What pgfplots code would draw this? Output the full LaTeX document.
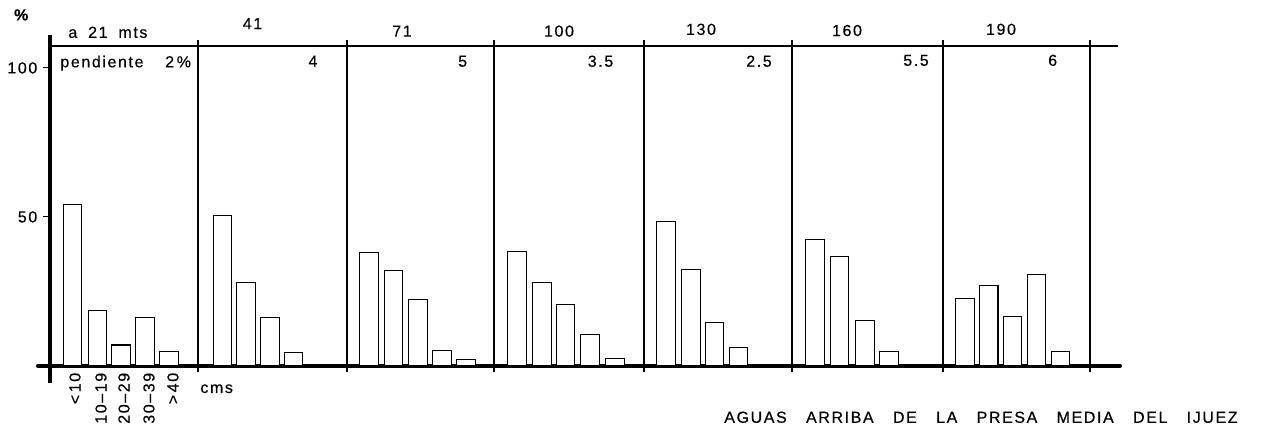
\documentclass[border=0pt]{standalone}
\usepackage{fontspec}
\setmainfont{Liberation Sans}[LetterSpace=10,WordSpace=1.8,FakeBold=0.4]
\newfontfamily\titlefont{Liberation Sans}[LetterSpace=10,WordSpace=3.2,FakeBold=0.4]
\usepackage{pgfplots}
\pgfplotsset{compat=1.18}
\begin{document}
\fontsize{8}{9}\selectfont
\begin{tikzpicture}
\begin{axis}[
  scale only axis, width=535pt, height=160pt,
  xmin=50, xmax=1120, ymin=0, ymax=107.4,
  axis lines*=left,
  x axis line style={draw=none}, y axis line style={draw=none},
  xtick=\empty, ytick={50,100},
  tick align=outside, major tick length=3.5pt,
  ytick style={line width=0.5pt, black},
  yticklabel style={font=\fontsize{8}{9}\selectfont, /pgf/number format/assume math mode=true},
  clip=false,
]
% frame: y axis, base line, top line, panel dividers
\draw[line width=1.7pt] (axis cs:50,-5.6) -- (axis cs:50,111);
\draw[line width=2pt, line cap=round] (axis cs:38,0) -- (axis cs:1120,0);
\draw[line width=0.8pt] (axis cs:50,107.4) -- (axis cs:1118,107.4);
\pgfplotsinvokeforeach{198,347,494,644,792,943,1090}{
  \draw[line width=0.6pt] (axis cs:#1,-2) -- (axis cs:#1,109.4);
}

\addplot[ybar, bar width=18.5, fill=white, draw=black, line width=0.55pt] coordinates {
  (72.5,54.3) (97.5,18.6) (121,7.0) (145,16.3) (169,4.8)
  (222.5,50.4) (246,28.0) (270,16.2) (293.5,4.6)
  (369,38.2) (393.5,32.0) (418,22.3) (442,5.1) (466,2.2)
  (517,38.4) (542,28.0) (565.5,20.7) (590,10.6) (615,2.4)
  (666,48.4) (691,32.3) (714.5,14.5) (738.5,6.1)
  (815,42.4) (839.5,36.6) (865,15.1) (889,4.8)
  (965,22.6) (988.7,27.0) (1012.3,16.6) (1036.3,30.8) (1060.3,4.9)
};

% distance labels
\node[anchor=base west, inner sep=0pt] at (axis cs:68,110.1) {a 21 mts};
\node[anchor=base, inner sep=0pt] at (axis cs:252.5,113.0) {41};
\node[anchor=base, inner sep=0pt] at (axis cs:402,110.5) {71};
\node[anchor=base, inner sep=0pt] at (axis cs:559,110.5) {100};
\node[anchor=base, inner sep=0pt] at (axis cs:701,111.1) {130};
\node[anchor=base, inner sep=0pt] at (axis cs:847,110.7) {160};
\node[anchor=base, inner sep=0pt] at (axis cs:1001,111.1) {190};
% slope labels
\node[anchor=base west, inner sep=0pt] at (axis cs:60,100.2) {pendiente \ 2\,\%};
\node[anchor=base, inner sep=0pt] at (axis cs:313,100.4) {4};
\node[anchor=base, inner sep=0pt] at (axis cs:462.7,100.4) {5};
\node[anchor=base, inner sep=0pt] at (axis cs:600.5,100.4) {3.5};
\node[anchor=base, inner sep=0pt] at (axis cs:759,100.4) {2.5};
\node[anchor=base, inner sep=0pt] at (axis cs:916,100.7) {5.5};
\node[anchor=base, inner sep=0pt] at (axis cs:1052.7,100.7) {6};
% size classes
\node[rotate=90, anchor=east, inner sep=0pt] at (axis cs:75,-2.2) {<\,10};
\node[rotate=90, anchor=east, inner sep=0pt] at (axis cs:101,-2.2) {10--19};
\node[rotate=90, anchor=east, inner sep=0pt] at (axis cs:124,-2.2) {20--29};
\node[rotate=90, anchor=east, inner sep=0pt] at (axis cs:149,-2.2) {30--39};
\node[rotate=90, anchor=east, inner sep=0pt] at (axis cs:173,-2.2) {>\,40};
\node[anchor=base west, inner sep=0pt] at (axis cs:200,-9.1) {cms};
\node[inner sep=0pt] at (axis cs:22,117.8) {\textbf{\%}};
\node[anchor=base east, inner sep=0pt, font=\titlefont] at (axis cs:1238,-19.1)
  {AGUAS ARRIBA DE LA PRESA MEDIA DEL IJUEZ};

\coordinate (bl) at (axis cs:0,-21.8);
\coordinate (tr) at (axis cs:1264,122.8);
\end{axis}
\pgfresetboundingbox
\useasboundingbox (bl) rectangle (tr);
\end{tikzpicture}
\end{document}
